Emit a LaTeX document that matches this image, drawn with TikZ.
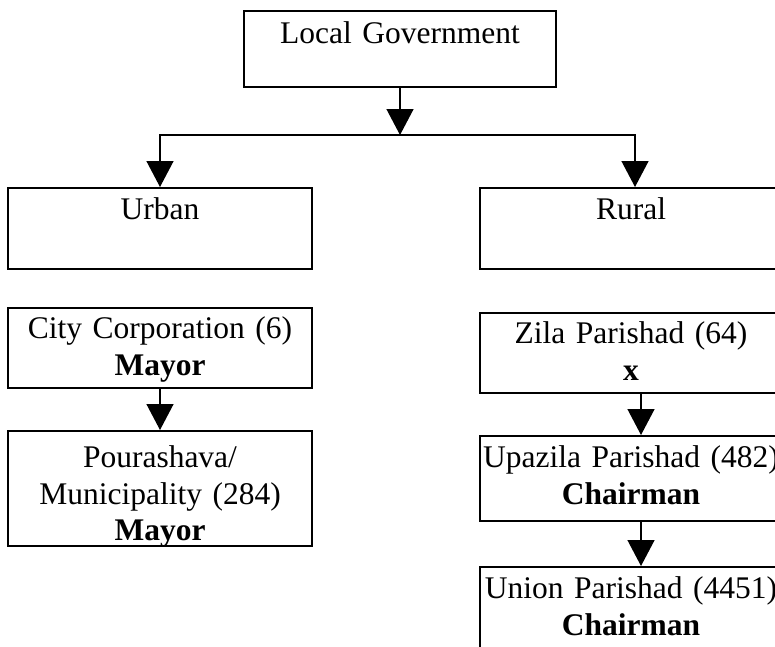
\documentclass[tikz,border=0pt]{standalone}
\usepackage{fontspec}
\setmainfont{Liberation Serif}
\usetikzlibrary{arrows.meta}
\begin{document}
\begin{tikzpicture}[x=1pt,y=-1pt,
  box/.style={draw, line width=1.8pt, anchor=north, align=center,
    inner xsep=0pt, inner ysep=0pt,
    font=\fontsize{31.5}{36.5}\selectfont},
  arr/.style={line width=1.4pt, -{Triangle[width=27pt,length=26pt]}},
  ln/.style={line width=1.6pt}]
\useasboundingbox (0,0) rectangle (775,646);
\clip (0,0) rectangle (775,646);
% boxes
\node[box, text width=312pt, text height=33pt, text depth=43pt] (lg) at (400,10) {Local Government};
\node[box, text width=304pt, text height=32pt, text depth=49pt] (urban) at (160,187) {Urban};
\node[box, text width=302pt, text height=32pt, text depth=49pt] (rural) at (631,187) {Rural};
\node[box, text width=304pt, text height=31pt, text depth=49pt] (city) at (160,307) {City Corporation (6)\\\textbf{Mayor}};
\node[box, text width=304pt, text height=37pt, text depth=78pt] (pour) at (160,430) {Pourashava/\\Municipality (284)\\\textbf{Mayor}};
\node[box, text width=302pt, text height=31pt, text depth=49pt] (zila) at (631,312) {Zila Parishad (64)\\\textbf{x}};
\node[box, text width=302pt, text height=32pt, text depth=53pt] (upa) at (631,435) {Upazila Parishad (482)\\\textbf{Chairman}};
\node[box, text width=302pt, text height=32pt, text depth=90pt] (union) at (631,566) {Union Parishad (4451)\\\textbf{Chairman}};
% connectors
\coordinate (jl) at (160,135);
\coordinate (jr) at (635,135);
\coordinate (rx) at (641,0);
\draw[arr] (lg.south) -- (lg.south |- jl);
\draw[ln, line cap=rect] (jl) -- (jr);
\draw[arr] (jl) -- (urban.north);
\draw[arr] (jr) -- (jr |- rural.north);
\draw[arr] (city.south) -- (pour.north);
\draw[arr] (zila.south -| rx) -- (upa.north -| rx);
\draw[arr] (upa.south -| rx) -- (union.north -| rx);
\end{tikzpicture}
\end{document}
